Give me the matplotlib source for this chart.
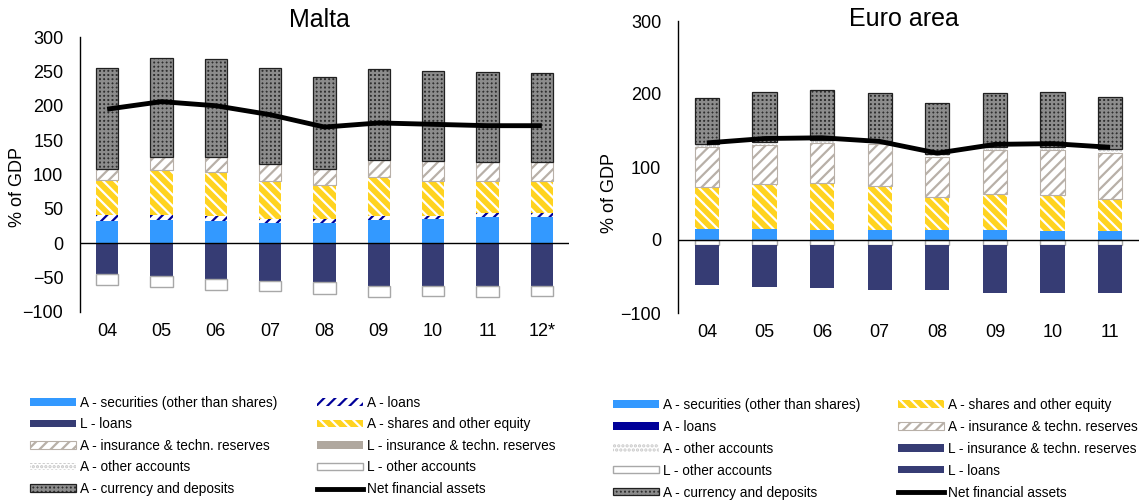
import matplotlib
matplotlib.use("Agg")
import matplotlib.pyplot as plt
import numpy as np
from matplotlib.patches import Patch
from matplotlib.lines import Line2D

plt.rcParams['font.family'] = ['Liberation Sans', 'DejaVu Sans']
plt.rcParams['hatch.linewidth'] = 1.6

# ---- Malta (% of GDP) ----
mt_years = ['04', '05', '06', '07', '08', '09', '10', '11', '12*']
mt_sec = [33, 34, 32, 29, 30, 34, 35, 38, 38]
mt_aloans = [8, 7, 8, 7, 6, 5, 5, 6, 6]
mt_shares = [51, 65, 63, 55, 49, 57, 51, 47, 46]
mt_ains = [16, 20, 23, 25, 23, 25, 28, 27, 28]
mt_aother = [0, 0, 0, 0, 0, 0, 0, 0, 0]
mt_curr = [147, 144, 142, 139, 134, 133, 131, 131, 130]
mt_lloans = [-45, -48, -52, -55, -57, -62, -62, -62, -62]
mt_lins = [0, 0, 0, 0, 0, 0, 0, 0, 0]
mt_lother = [-16, -16, -16, -14, -17, -16, -14, -16, -14]
mt_net = [195, 206, 200, 187, 169, 175, 173, 171, 171]

# ---- Euro area (% of GDP) ----
ea_years = ['04', '05', '06', '07', '08', '09', '10', '11']
ea_sec = [15, 15, 14, 14, 14, 14, 13, 13]
ea_aloans = [0, 0, 0, 0, 0, 0, 0, 0]
ea_shares = [58, 62, 64, 60, 45, 49, 49, 43]
ea_ains = [54, 53, 55, 57, 55, 60, 61, 63]
ea_aother = [4, 4, 4, 4, 4, 4, 4, 5]
ea_curr = [63, 69, 68, 66, 69, 75, 76, 72]
ea_lother = [-7, -7, -7, -7, -7, -7, -7, -7]
ea_lins = [0, 0, 0, 0, 0, 0, 0, 0]
ea_lloans = [-55, -58, -59, -61, -61, -66, -66, -65]
ea_net = [133, 139, 140, 135, 119, 131, 132, 127]

BLUE = '#3399FF'
NAVY = '#363C74'
DKBLUE = '#000099'
YELLOW = '#FFD320'
GREY = '#B8B0A8'

st = {
    'sec': dict(facecolor=BLUE, edgecolor=BLUE, linewidth=0),
    'aloans_mt': dict(facecolor='white', edgecolor=DKBLUE, hatch='///', linewidth=0),
    'aloans_ea': dict(facecolor=DKBLUE, edgecolor=DKBLUE, linewidth=0),
    'shares': dict(facecolor=YELLOW, edgecolor='white', hatch='\\\\\\', linewidth=0),
    'ains': dict(facecolor='white', edgecolor=GREY, hatch='///', linewidth=0.8),
    'aother': dict(facecolor='white', edgecolor='#C8C8C8', hatch='....', linewidth=0),
    'curr': dict(facecolor='#2E2E2E', edgecolor='#8C8C8C', hatch='++++', linewidth=0),
    'lloans': dict(facecolor=NAVY, edgecolor=NAVY, linewidth=0),
    'lins_mt': dict(facecolor='#B0A89F', edgecolor='#B0A89F', linewidth=0),
    'lins_ea': dict(facecolor=NAVY, edgecolor=NAVY, linewidth=0),
    'lother': dict(facecolor='white', edgecolor='#A8A8A8', linewidth=1.0),
}
curr_border = dict(facecolor='none', edgecolor='#202020', linewidth=0.9)

W, H = 1139, 501
fig = plt.figure(figsize=(W / 100, H / 100), dpi=100)


def px_axes(left, right, top, bottom):
    return fig.add_axes([left / W, 1 - bottom / H, (right - left) / W, (bottom - top) / H])


def panel(ax, years, pos, neg, net, width):
    x = np.arange(len(years))
    base = np.zeros(len(years))
    for key, vals, style in pos:
        ax.bar(x, vals, width, bottom=base, **st[style])
        if key == 'curr':
            ax.bar(x, vals, width, bottom=base, **curr_border)
        base = base + np.array(vals)
    base = np.zeros(len(years))
    for key, vals, style in neg:
        ax.bar(x, vals, width, bottom=base, **st[style])
        base = base + np.array(vals)
    ax.plot(x, net, color='black', lw=3.5, solid_joinstyle='round',
            solid_capstyle='butt', zorder=5)
    ax.axhline(0, color='black', lw=1)
    ax.set_xlim(-0.5, len(years) - 0.5)
    ax.set_ylim(-100, 300)
    ax.set_xticks(x)
    ax.set_xticklabels(years)
    for s in ['top', 'right', 'bottom']:
        ax.spines[s].set_visible(False)
    ax.spines['left'].set_linewidth(1)
    ax.tick_params(axis='both', length=0, labelsize=13)
    ax.tick_params(axis='y', pad=12)
    ax.tick_params(axis='x', pad=8)


# Malta
ax1 = px_axes(80, 569, 37, 312)
panel(ax1, mt_years,
      [('sec', mt_sec, 'sec'), ('aloans', mt_aloans, 'aloans_mt'),
       ('shares', mt_shares, 'shares'), ('ains', mt_ains, 'ains'),
       ('aother', mt_aother, 'aother'), ('curr', mt_curr, 'curr')],
      [('lloans', mt_lloans, 'lloans'), ('lins', mt_lins, 'lins_mt'),
       ('lother', mt_lother, 'lother')],
      mt_net, 0.41)
ax1.set_yticks([-100, -50, 0, 50, 100, 150, 200, 250, 300])

# Euro area
ax2 = px_axes(678, 1139, 21, 313)
panel(ax2, ea_years,
      [('sec', ea_sec, 'sec'), ('aloans', ea_aloans, 'aloans_ea'),
       ('shares', ea_shares, 'shares'), ('ains', ea_ains, 'ains'),
       ('aother', ea_aother, 'aother'), ('curr', ea_curr, 'curr')],
      [('lother', ea_lother, 'lother'), ('lins', ea_lins, 'lins_ea'),
       ('lloans', ea_lloans, 'lloans')],
      ea_net, 0.42)
ax2.set_yticks([-100, 0, 100, 200, 300])

fig.text(319 / W, 1 - 20 / H, 'Malta', ha='center', va='center', fontsize=18)
fig.text(904 / W, 1 - 19 / H, 'Euro area', ha='center', va='center', fontsize=18)
fig.text(17 / W, 1 - 187 / H, '% of GDP', rotation=90, ha='center', va='center', fontsize=13)
fig.text(610 / W, 1 - 193 / H, '% of GDP', rotation=90, ha='center', va='center', fontsize=13)


def h(style):
    if style == 'curr':
        return (Patch(**st['curr']), Patch(**curr_border))
    return Patch(**st[style])


net_h = Line2D([], [], color='black', lw=3.5)

mt_handles = [h('sec'), h('lloans'), h('ains'), h('aother'), h('curr'),
              h('aloans_mt'), h('shares'), h('lins_mt'), h('lother'), net_h]
mt_labels = ['A - securities (other than shares)', 'L - loans',
             'A - insurance & techn. reserves', 'A - other accounts',
             'A - currency and deposits', 'A - loans',
             'A - shares and other equity', 'L - insurance & techn. reserves',
             'L - other accounts', 'Net financial assets']

ea_handles = [h('sec'), h('aloans_ea'), h('aother'), h('lother'), h('curr'),
              h('shares'), h('ains'), h('lins_ea'), h('lloans'), net_h]
ea_labels = ['A - securities (other than shares)', 'A - loans',
             'A - other accounts', 'L - other accounts',
             'A - currency and deposits', 'A - shares and other equity',
             'A - insurance & techn. reserves', 'L - insurance & techn. reserves',
             'L - loans', 'Net financial assets']

leg_kw = dict(ncol=2, frameon=False, fontsize=9.8, handlelength=3.35,
              handleheight=0.45, handletextpad=0.3,
              borderpad=0, borderaxespad=0, loc='upper left')
fig.legend(mt_handles, mt_labels, bbox_to_anchor=(30 / W, 1 - 396 / H),
           columnspacing=2.95, labelspacing=0.55, **leg_kw)
fig.legend(ea_handles, ea_labels, bbox_to_anchor=(613 / W, 1 - 398 / H),
           columnspacing=2.8, labelspacing=0.58, **leg_kw)

fig.savefig('out.png', dpi=100)
